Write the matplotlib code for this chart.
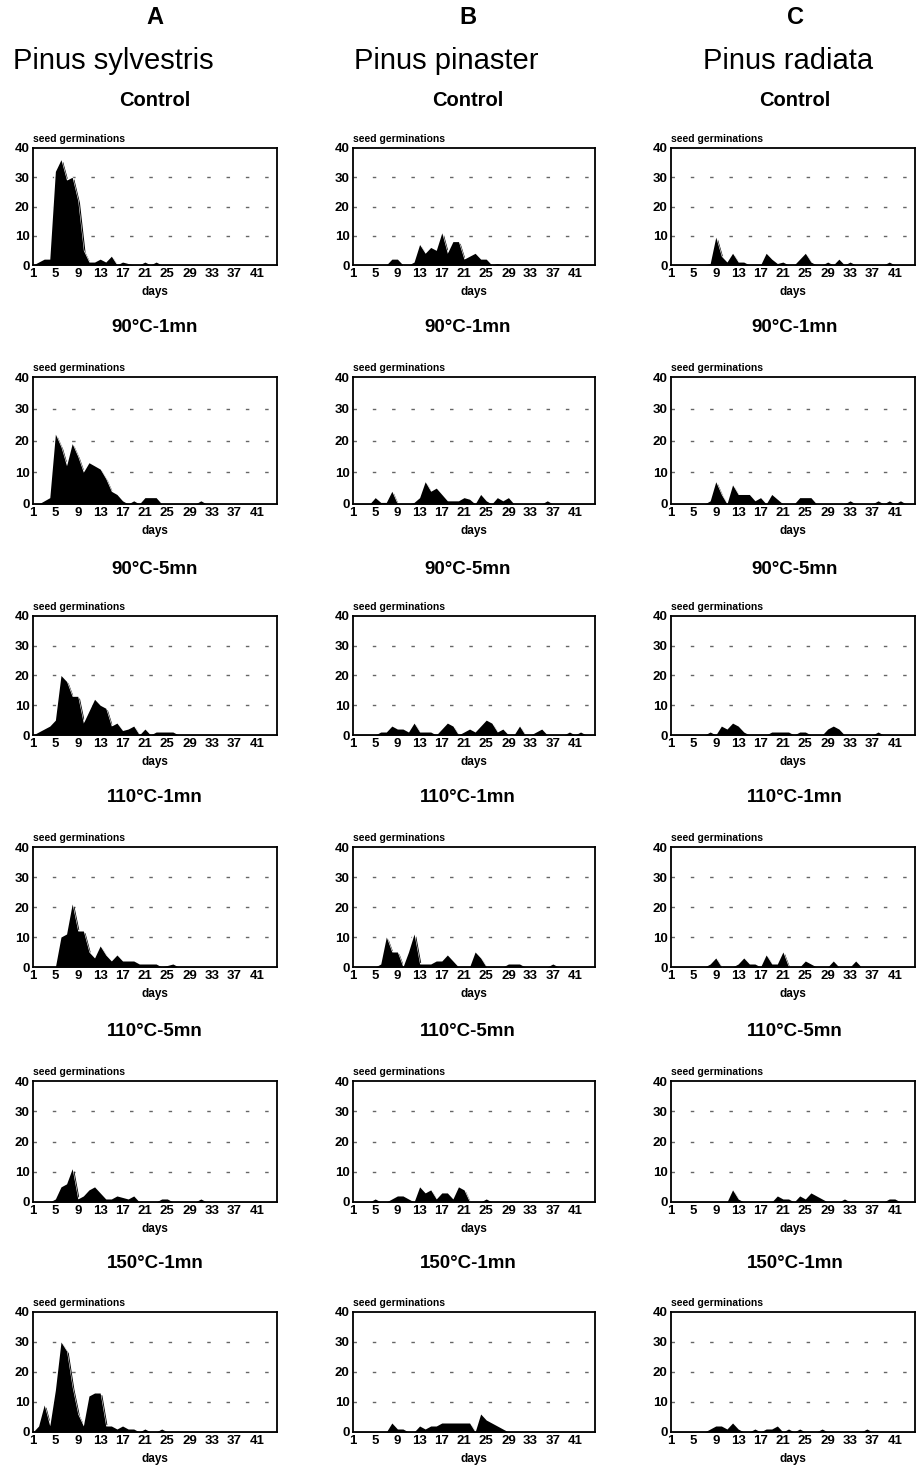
import numpy as np
import matplotlib
matplotlib.use('Agg')
import matplotlib.pyplot as plt

plt.rcParams['font.family'] = ['Liberation Sans', 'DejaVu Sans']

W, H = 924, 1470

# days 1..44
days = list(range(1, 45))
xticks = [1, 5, 9, 13, 17, 21, 25, 29, 33, 37, 41]
yticks = [0, 10, 20, 30, 40]

letters = ['A', 'B', 'C']
species = ['Pinus sylvestris', 'Pinus pinaster', 'Pinus radiata']
treatments = ['Control', '90\u00b0C-1mn', '90\u00b0C-5mn', '110\u00b0C-1mn', '110\u00b0C-5mn', '150\u00b0C-1mn']

# Pinus sylvestris
syl_control = [0, 1, 2, 2, 32, 36, 29, 30, 22, 5, 1, 1, 2, 1, 3, 0, 1, 0.5, 0, 0, 1, 0, 1, 0, 0, 0, 0, 0, 0, 0, 0, 0, 0, 0, 0, 0, 0, 0, 0, 0, 0, 0, 0, 0]
syl_90_1 = [0, 0, 1, 2, 22, 18, 12, 19, 15, 10, 13, 12, 11, 8, 4, 3, 1, 0, 1, 0, 2, 2, 2, 0, 0, 0, 0, 0, 0, 0, 1, 0, 0, 0, 0, 0, 0, 0, 0, 0, 0, 0, 0, 0]
syl_90_5 = [0, 1, 2, 3, 5, 20, 18, 13, 13, 4, 8, 12, 10, 9, 3, 4, 1.5, 2, 3, 0, 2, 0, 1, 1, 1, 1, 0, 0, 0, 0, 0, 0, 0, 0, 0, 0, 0, 0, 0, 0, 0, 0, 0, 0]
syl_110_1 = [0, 0, 0, 0, 0, 10, 11, 21, 12, 12, 5, 3, 7, 4, 2, 4, 2, 2, 2, 1, 1, 1, 1, 0, 0.5, 1, 0, 0, 0, 0, 0, 0, 0, 0, 0, 0, 0, 0, 0, 0, 0, 0, 0, 0]
syl_110_5 = [0, 0, 0, 0, 1, 5, 6, 11, 1, 2, 4, 5, 3, 1, 1, 2, 1.5, 1, 2, 0, 0, 0, 0, 1, 1, 0, 0, 0, 0, 0, 1, 0, 0, 0, 0, 0, 0, 0, 0, 0, 0, 0, 0, 0]
syl_150_1 = [0, 2, 9, 2, 14, 30, 27, 15, 6, 2, 12, 13, 13, 2, 2, 1, 2, 1, 1, 0, 1, 0, 0, 1, 0, 0, 0, 0, 0, 0, 0, 0, 0, 0, 0, 0, 0, 0, 0, 0, 0, 0, 0, 0]

# Pinus pinaster
pin_control = [0, 0, 0, 0, 0, 0, 0, 2, 2, 0, 0, 1, 7, 4, 6, 5, 11, 4, 8, 8, 2, 3, 4, 2, 2, 0, 0.5, 0, 0, 0, 0, 0, 0, 0, 0, 0, 0, 0, 0, 0, 0, 0, 0, 0]
pin_90_1 = [0, 0, 0, 0, 2, 0.5, 0.5, 4, 0, 0, 0, 0.5, 2, 7, 4, 5, 3, 1, 1, 1, 2, 1.5, 0, 3, 1, 0, 2, 1, 2, 0, 0, 0, 0, 0, 0, 1, 0, 0, 0, 0, 0, 0, 0, 0]
pin_90_5 = [0, 0, 0, 0, 0, 1, 1, 3, 2, 2, 1, 4, 1, 1, 1, 0, 2, 4, 3, 0, 1, 2, 1, 3, 5, 4, 1, 2, 0, 0, 3, 0, 0, 1, 2, 0, 0, 0, 0, 1, 0, 1, 0, 0]
pin_110_1 = [0, 0, 0, 0, 0, 1, 10, 5, 5, 0, 5, 11, 1, 1, 1, 2, 2, 4, 2, 0, 0, 0, 5, 3, 0, 0, 0, 0, 1, 1, 1, 0, 0, 0, 0, 0, 1, 0, 0, 0, 0, 0, 0, 0]
pin_110_5 = [0, 0, 0, 0, 1, 0, 0, 1, 2, 2, 1, 0, 5, 3, 4, 1, 3, 3, 1, 5, 4, 0, 0, 0, 1, 0, 0, 0, 0, 0, 0, 0, 0, 0, 0, 0, 0, 0, 0, 0, 0, 0, 0, 0]
pin_150_1 = [0, 0, 0, 0, 0, 0, 0, 3, 1, 1, 0, 0, 2, 1, 2, 2, 3, 3, 3, 3, 3, 3, 0, 6, 4, 3, 2, 1, 0, 0, 0, 0, 0, 0, 0, 0, 0, 0, 0, 0, 0, 0, 0, 0]

# Pinus radiata
rad_control = [0, 0, 0, 0, 0, 0, 0, 0.5, 9.5, 3, 1, 4, 1, 1, 0, 0, 0, 4, 2, 0.5, 1, 0, 0, 2, 4, 1, 0, 0, 1, 0, 2, 0, 1, 0, 0, 0, 0, 0, 0, 1, 0, 0, 0, 0]
rad_90_1 = [0, 0, 0, 0, 0, 0, 0, 1, 7, 3, 0, 6, 3, 3, 3, 1, 2, 0, 3, 1.5, 0, 0, 0, 2, 2, 2, 0, 0, 0, 0, 0, 0, 1, 0, 0, 0, 0, 1, 0, 1, 0, 1, 0, 0]
rad_90_5 = [0, 0, 0, 0, 0, 0, 0, 1, 0, 3, 2, 4, 3, 1, 0, 0, 0, 0, 1, 1, 1, 1, 0, 1, 1, 0, 0, 0, 2, 3, 2, 0, 0, 0, 0, 0, 0, 1, 0, 0, 0, 0, 0, 0]
rad_110_1 = [0, 0, 0, 0, 0, 0, 0, 1, 3, 0, 0, 0, 1, 3, 1, 1, 0, 4, 1, 1, 5, 0, 0, 0, 2, 1, 0, 0, 0, 2, 0, 0, 0, 2, 0, 0, 0, 0, 0, 0, 0, 0, 0, 0]
rad_110_5 = [0, 0, 0, 0, 0, 0, 0, 0, 0, 0, 0, 4, 1, 0, 0, 0, 0, 0, 0, 2, 1, 1, 0, 2, 1, 3, 2, 1, 0, 0, 0, 1, 0, 0, 0, 0, 0, 0, 0, 1, 1, 0, 0, 0]
rad_150_1 = [0, 0, 0, 0, 0, 0, 0, 1, 2, 2, 1, 3, 1, 0, 0, 1, 0, 1, 1, 2, 0, 1, 0, 1, 0, 0, 0, 1, 0, 0, 0, 0, 0, 0, 0, 1, 0, 0, 0, 0, 0, 0, 0, 0]

columns = [
    [syl_control, syl_90_1, syl_90_5, syl_110_1, syl_110_5, syl_150_1],
    [pin_control, pin_90_1, pin_90_5, pin_110_1, pin_110_5, pin_150_1],
    [rad_control, rad_90_1, rad_90_5, rad_110_1, rad_110_5, rad_150_1],
]

# layout in pixels
col_left = [33, 353, 671]
col_right = [277, 595, 915]
col_center = [155, 468, 795]
species_x = [113, 446, 788]
row_top = [148, 377, 616, 847, 1081, 1312]
row_bottom = [265, 504, 735, 967, 1202, 1432]
title_y = [100, 327, 569, 797, 1031, 1263]

fig = plt.figure(figsize=(W / 100, H / 100), dpi=100)

def fx(x):
    return x / W

def fy(y):
    return 1 - y / H

for c in range(3):
    fig.text(fx(col_center[c]), fy(18), letters[c], ha='center', va='center',
             fontsize=17, fontweight='bold')
    fig.text(fx(species_x[c]), fy(61), species[c], ha='center', va='center', fontsize=21)
    for r in range(6):
        fig.text(fx(col_center[c]), fy(title_y[r]), treatments[r], ha='center', va='center',
                 fontsize=14.5 if r == 0 else 13.5, fontweight='bold')

        ax = fig.add_axes([fx(col_left[c]), fy(row_bottom[r]),
                           (col_right[c] - col_left[c]) / W,
                           (row_bottom[r] - row_top[r]) / H])
        vals = np.array(columns[c][r], dtype=float)
        x = np.array(days, dtype=float)

        # shadow, white edge and black fill
        ax.fill_between(x + 0.3, vals - 0.6, 0, color='black', lw=0, zorder=2)
        ax.plot(x, vals, color='white', lw=1.3, zorder=3)
        ax.fill_between(x, vals, 0, color='black', lw=0, zorder=4)

        for g in [10, 20, 30]:
            ax.axhline(g, color='#666666', lw=1, linestyle=(0, (2.5, 11.4)), zorder=1)

        ax.set_xlim(1, 44.6)
        ax.set_ylim(0, 40)
        ax.set_xticks(xticks)
        ax.set_yticks(yticks)
        ax.tick_params(length=0, pad=2.5, labelsize=9.5)
        for lab in ax.get_xticklabels() + ax.get_yticklabels():
            lab.set_fontweight('bold')
        for s in ax.spines.values():
            s.set_linewidth(1.3)
            s.set_zorder(5)
        ax.text(0.0, 1.03, 'seed germinations', transform=ax.transAxes, ha='left', va='bottom',
                fontsize=7.5, fontweight='bold')
        ax.set_xlabel('days', fontsize=8.5, fontweight='bold', labelpad=4)

fig.savefig('out.png', dpi=100)
